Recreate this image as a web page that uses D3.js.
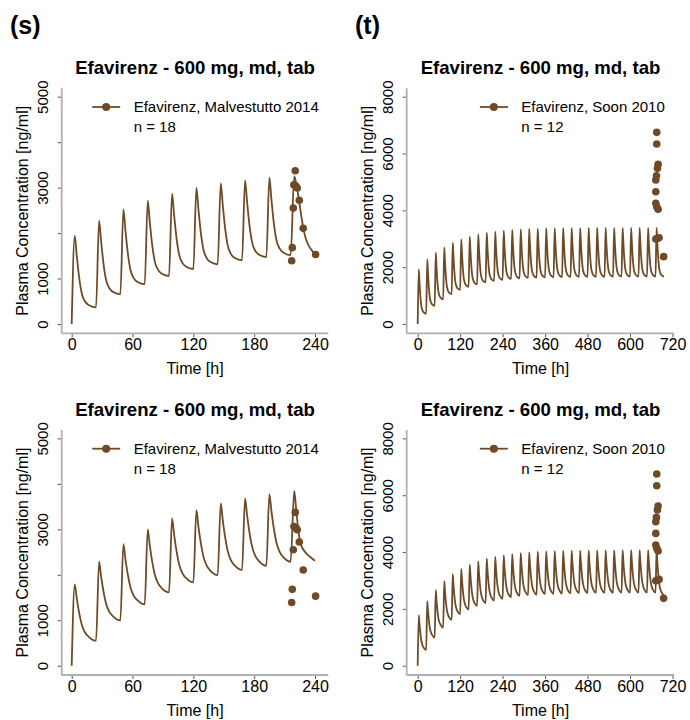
<!DOCTYPE html>
<html>
<head>
<meta charset="utf-8">
<script src="https://cdn.jsdelivr.net/npm/d3@7"></script>
<style>
  body { margin: 0; background: #fff; }
  svg { display: block; }
  text { font-family: "Liberation Sans", Arial, Helvetica, sans-serif; }
</style>
</head>
<body>
<div id="chart"></div>
<script>
// ---- data ----
const DOSE_INTERVAL = 24;   // h
const PEAK_AFTER = 3;       // h after each dose

// (s) Malvestutto 2014 - top: peak of each dose, pre-dose values
const sTopPeaks   = [1940, 2275, 2522, 2715, 2865, 2999, 3094, 3160, 3222];
const sTopTroughs = [0, 367, 653, 876, 1056, 1210, 1313, 1400, 1470, 1517];
const sTopLast    = [[216, 1517], [219.5, 3250], [222.5, 2960], [225, 2600], [227, 2300],
                     [230, 1950], [233, 1760], [236.5, 1630], [240, 1550]];

// (s) bottom
const sBotPeaks   = [1789, 2287, 2676, 2999, 3240, 3424, 3570, 3680, 3776];
const sBotTroughs = [0, 550, 997, 1349, 1613, 1833, 1994, 2104, 2199, 2287];
const sBotLast    = [[216, 2287], [219.5, 3845], [221.2, 3497], [223.5, 2984], [225.8, 2691],
                     [230, 2507], [235, 2397], [240, 2310]];

// (t) Soon 2010 - top
const tTopPeaks   = [1925, 2277, 2510, 2699, 2862, 2981, 3073, 3157, 3214, 3249, 3284, 3308, 3332, 3344,
                     3355, 3362, 3367, 3371, 3374, 3376, 3378, 3379, 3380, 3381, 3382, 3382, 3383, 3383, 3383];
const tTopTroughs = [0, 360, 640, 870, 1050, 1200, 1310, 1395, 1465, 1515, 1555, 1585, 1605, 1620, 1632,
                     1640, 1646, 1650, 1654, 1657, 1659, 1661, 1662, 1663, 1664, 1665, 1665, 1666, 1666, 1666];

// (t) bottom
const tBotPeaks   = [1780, 2270, 2660, 2980, 3220, 3410, 3560, 3675, 3765, 3830, 3885, 3930, 3965, 3990,
                     4010, 4025, 4035, 4042, 4048, 4052, 4055, 4058, 4060, 4062, 4063, 4064, 4065, 4066, 4080];
const tBotTroughs = [0, 552, 992, 1345, 1613, 1810, 1980, 2105, 2200, 2290, 2350, 2410, 2455, 2485, 2505,
                     2520, 2530, 2540, 2547, 2553, 2558, 2562, 2565, 2567, 2569, 2570, 2571, 2572, 2573, 2480];

// shape of the fall after the peak: [h after dose, fraction of (peak - next trough)]
const topShape = [[5, 0.72], [7.5, 0.40], [10, 0.19], [13, 0.085], [17, 0.03]];
const botShape = [[5, 0.75], [7.5, 0.48], [10, 0.28], [13, 0.15], [17, 0.065]];

// observed data
const sObsTime = [217, 217.6, 218.6, 219.2, 220.5, 221.2, 222.5, 224.5, 228.4, 240.6];
const sObsConc = [1390, 1679, 2550, 3060, 3372, 3035, 2990, 2722, 2104, 1530];
const tObsTime = [675.5, 675.5, 679.3, 677.4, 674.6, 672.8, 672.8, 672.8, 675.5, 679.3, 672.8, 677, 682.1, 695];
const tObsConc = [6745, 6334, 5619, 5478, 5220, 5067, 4657, 4246, 4129, 4035, 2991, 3010, 3038, 2370];

const sTicksX = [0, 60, 120, 180, 240];
const tTicksX = [0, 120, 240, 360, 480, 600, 720];
const sTicksY = [0, 1000, 2000, 3000, 4000, 5000];
const sLabelsY = [0, 1000, 3000, 5000];
const tTicksY = [0, 2000, 4000, 6000, 8000];

const title = "Efavirenz - 600 mg, md, tab";
const brown = "#6f4a27";

function buildSeries(peaks, troughs, shape, lastPts) {
  const pts = [];
  peaks.forEach((p, i) => {
    const d = i * DOSE_INTERVAL, e = troughs[i + 1];
    pts.push([d, troughs[i]], [d + PEAK_AFTER, p]);
    shape.forEach(([h, f]) => pts.push([d + h, e + f * (p - e)]));
  });
  if (lastPts) pts.push(...lastPts);
  else pts.push([peaks.length * DOSE_INTERVAL, troughs[peaks.length]]);
  return pts;
}

const sObs = sObsTime.map((t, i) => [t, sObsConc[i]]);
const tObs = tObsTime.map((t, i) => [t, tObsConc[i]]);

const left  = {x0: 61.7, x1: 328.3, xr: [71.7, 315]};
const right = {x0: 406.7, x1: 674.3, xr: [417.7, 672.5]};

const panels = [
  {frame: left, dy: 0, label: "(s)", xMax: 240, xTicks: sTicksX, yMax: 5000, yTicks: sTicksY, yLabels: sLabelsY,
   line: buildSeries(sTopPeaks, sTopTroughs, topShape, sTopLast), obs: sObs,
   legend: "Efavirenz, Malvestutto 2014", n: "n = 18"},
  {frame: right, dy: 0, label: "(t)", xMax: 720, xTicks: tTicksX, yMax: 8000, yTicks: tTicksY, yLabels: tTicksY,
   line: buildSeries(tTopPeaks, tTopTroughs, topShape), obs: tObs,
   legend: "Efavirenz, Soon 2010", n: "n = 12"},
  {frame: left, dy: 341.7, xMax: 240, xTicks: sTicksX, yMax: 5000, yTicks: sTicksY, yLabels: sLabelsY,
   line: buildSeries(sBotPeaks, sBotTroughs, botShape, sBotLast), obs: sObs,
   legend: "Efavirenz, Malvestutto 2014", n: "n = 18"},
  {frame: right, dy: 341.7, xMax: 720, xTicks: tTicksX, yMax: 8000, yTicks: tTicksY, yLabels: tTicksY,
   line: buildSeries(tBotPeaks, tBotTroughs, botShape), obs: tObs,
   legend: "Efavirenz, Soon 2010", n: "n = 12"}
];

const svg = d3.select("#chart").append("svg")
  .attr("width", 690).attr("height", 720);

panels.forEach(p => {
  const f = p.frame, dy = p.dy;
  const yTop = 88.3 + dy, yBot = 333.3 + dy;
  const x = d3.scaleLinear().domain([0, p.xMax]).range(f.xr);
  const y = d3.scaleLinear().domain([0, p.yMax]).range([324 + dy, 96.7 + dy]);
  const g = svg.append("g");

  if (p.label) {
    g.append("text").attr("x", f.x0 - 51.7).attr("y", 34)
      .attr("font-size", 25).attr("font-weight", "bold").text(p.label);
  }

  // title
  g.append("text").attr("x", (f.x0 + f.x1) / 2).attr("y", yTop - 14.3)
    .attr("text-anchor", "middle").attr("font-size", 18.6).attr("font-weight", "bold")
    .text(title);

  // x axis
  const xa = g.append("g").attr("transform", `translate(0,${yBot})`)
    .call(d3.axisBottom(x).tickValues(p.xTicks).tickSize(4).tickPadding(1.5));
  xa.select(".domain").remove();
  xa.selectAll("line").attr("stroke", "#555");
  xa.selectAll("text").attr("font-size", 16).attr("fill", "#000")
    .style("font-family", '"Liberation Sans", Arial, sans-serif');
  g.append("line").attr("x1", f.x0).attr("x2", f.x1).attr("y1", yBot).attr("y2", yBot)
    .attr("stroke", "#b0b0b0").attr("stroke-width", 1.8);

  // y axis
  const ya = g.append("g").attr("transform", `translate(${f.x0},0)`)
    .call(d3.axisLeft(y).tickValues(p.yTicks).tickSize(4)
      .tickFormat(d => p.yLabels.includes(d) ? d : ""));
  ya.select(".domain").remove();
  ya.selectAll("line").attr("stroke", "#555");
  ya.selectAll("text")
    .attr("x", null).attr("dy", null).attr("y", 0)
    .attr("text-anchor", "middle")
    .attr("transform", "translate(-13.4,0) rotate(-90)")
    .attr("font-size", 15).attr("fill", "#000")
    .style("font-family", '"Liberation Sans", Arial, sans-serif');
  g.append("line").attr("x1", f.x0).attr("x2", f.x0).attr("y1", yTop).attr("y2", yBot)
    .attr("stroke", "#b0b0b0").attr("stroke-width", 1.8);

  // axis titles
  g.append("text").attr("x", (f.x0 + f.x1) / 2).attr("y", yBot + 40.7)
    .attr("text-anchor", "middle").attr("font-size", 16).text("Time [h]");
  g.append("text")
    .attr("transform", `translate(${f.x0 - 33.5},${(yTop + yBot) / 2}) rotate(-90)`)
    .attr("text-anchor", "middle").attr("font-size", 16)
    .text("Plasma Concentration [ng/ml]");

  // simulation
  g.append("path").datum(p.line)
    .attr("fill", "none").attr("stroke", brown).attr("stroke-width", 1.8)
    .attr("stroke-linejoin", "round")
    .attr("d", d3.line().x(d => x(d[0])).y(d => y(d[1])).curve(d3.curveMonotoneX));

  // observed
  g.selectAll("circle.obs").data(p.obs).join("circle").attr("class", "obs")
    .attr("cx", d => x(d[0])).attr("cy", d => y(d[1])).attr("r", 3.8)
    .attr("fill", brown);

  // legend
  const lt = g.append("text").attr("font-size", 15).text(p.legend);
  const tw = lt.node().getComputedTextLength();
  const tx = f.x1 - 9.5 - tw, ty = yTop + 24;
  lt.attr("x", tx).attr("y", ty);
  g.append("text").attr("font-size", 15).attr("x", tx).attr("y", ty + 20).text(p.n);
  g.append("line").attr("x1", tx - 41.5).attr("x2", tx - 13.5).attr("y1", ty - 5.3).attr("y2", ty - 5.3)
    .attr("stroke", brown).attr("stroke-width", 1.8);
  g.append("circle").attr("cx", tx - 27.5).attr("cy", ty - 5.3).attr("r", 4).attr("fill", brown);
});
</script>
</body>
</html>
